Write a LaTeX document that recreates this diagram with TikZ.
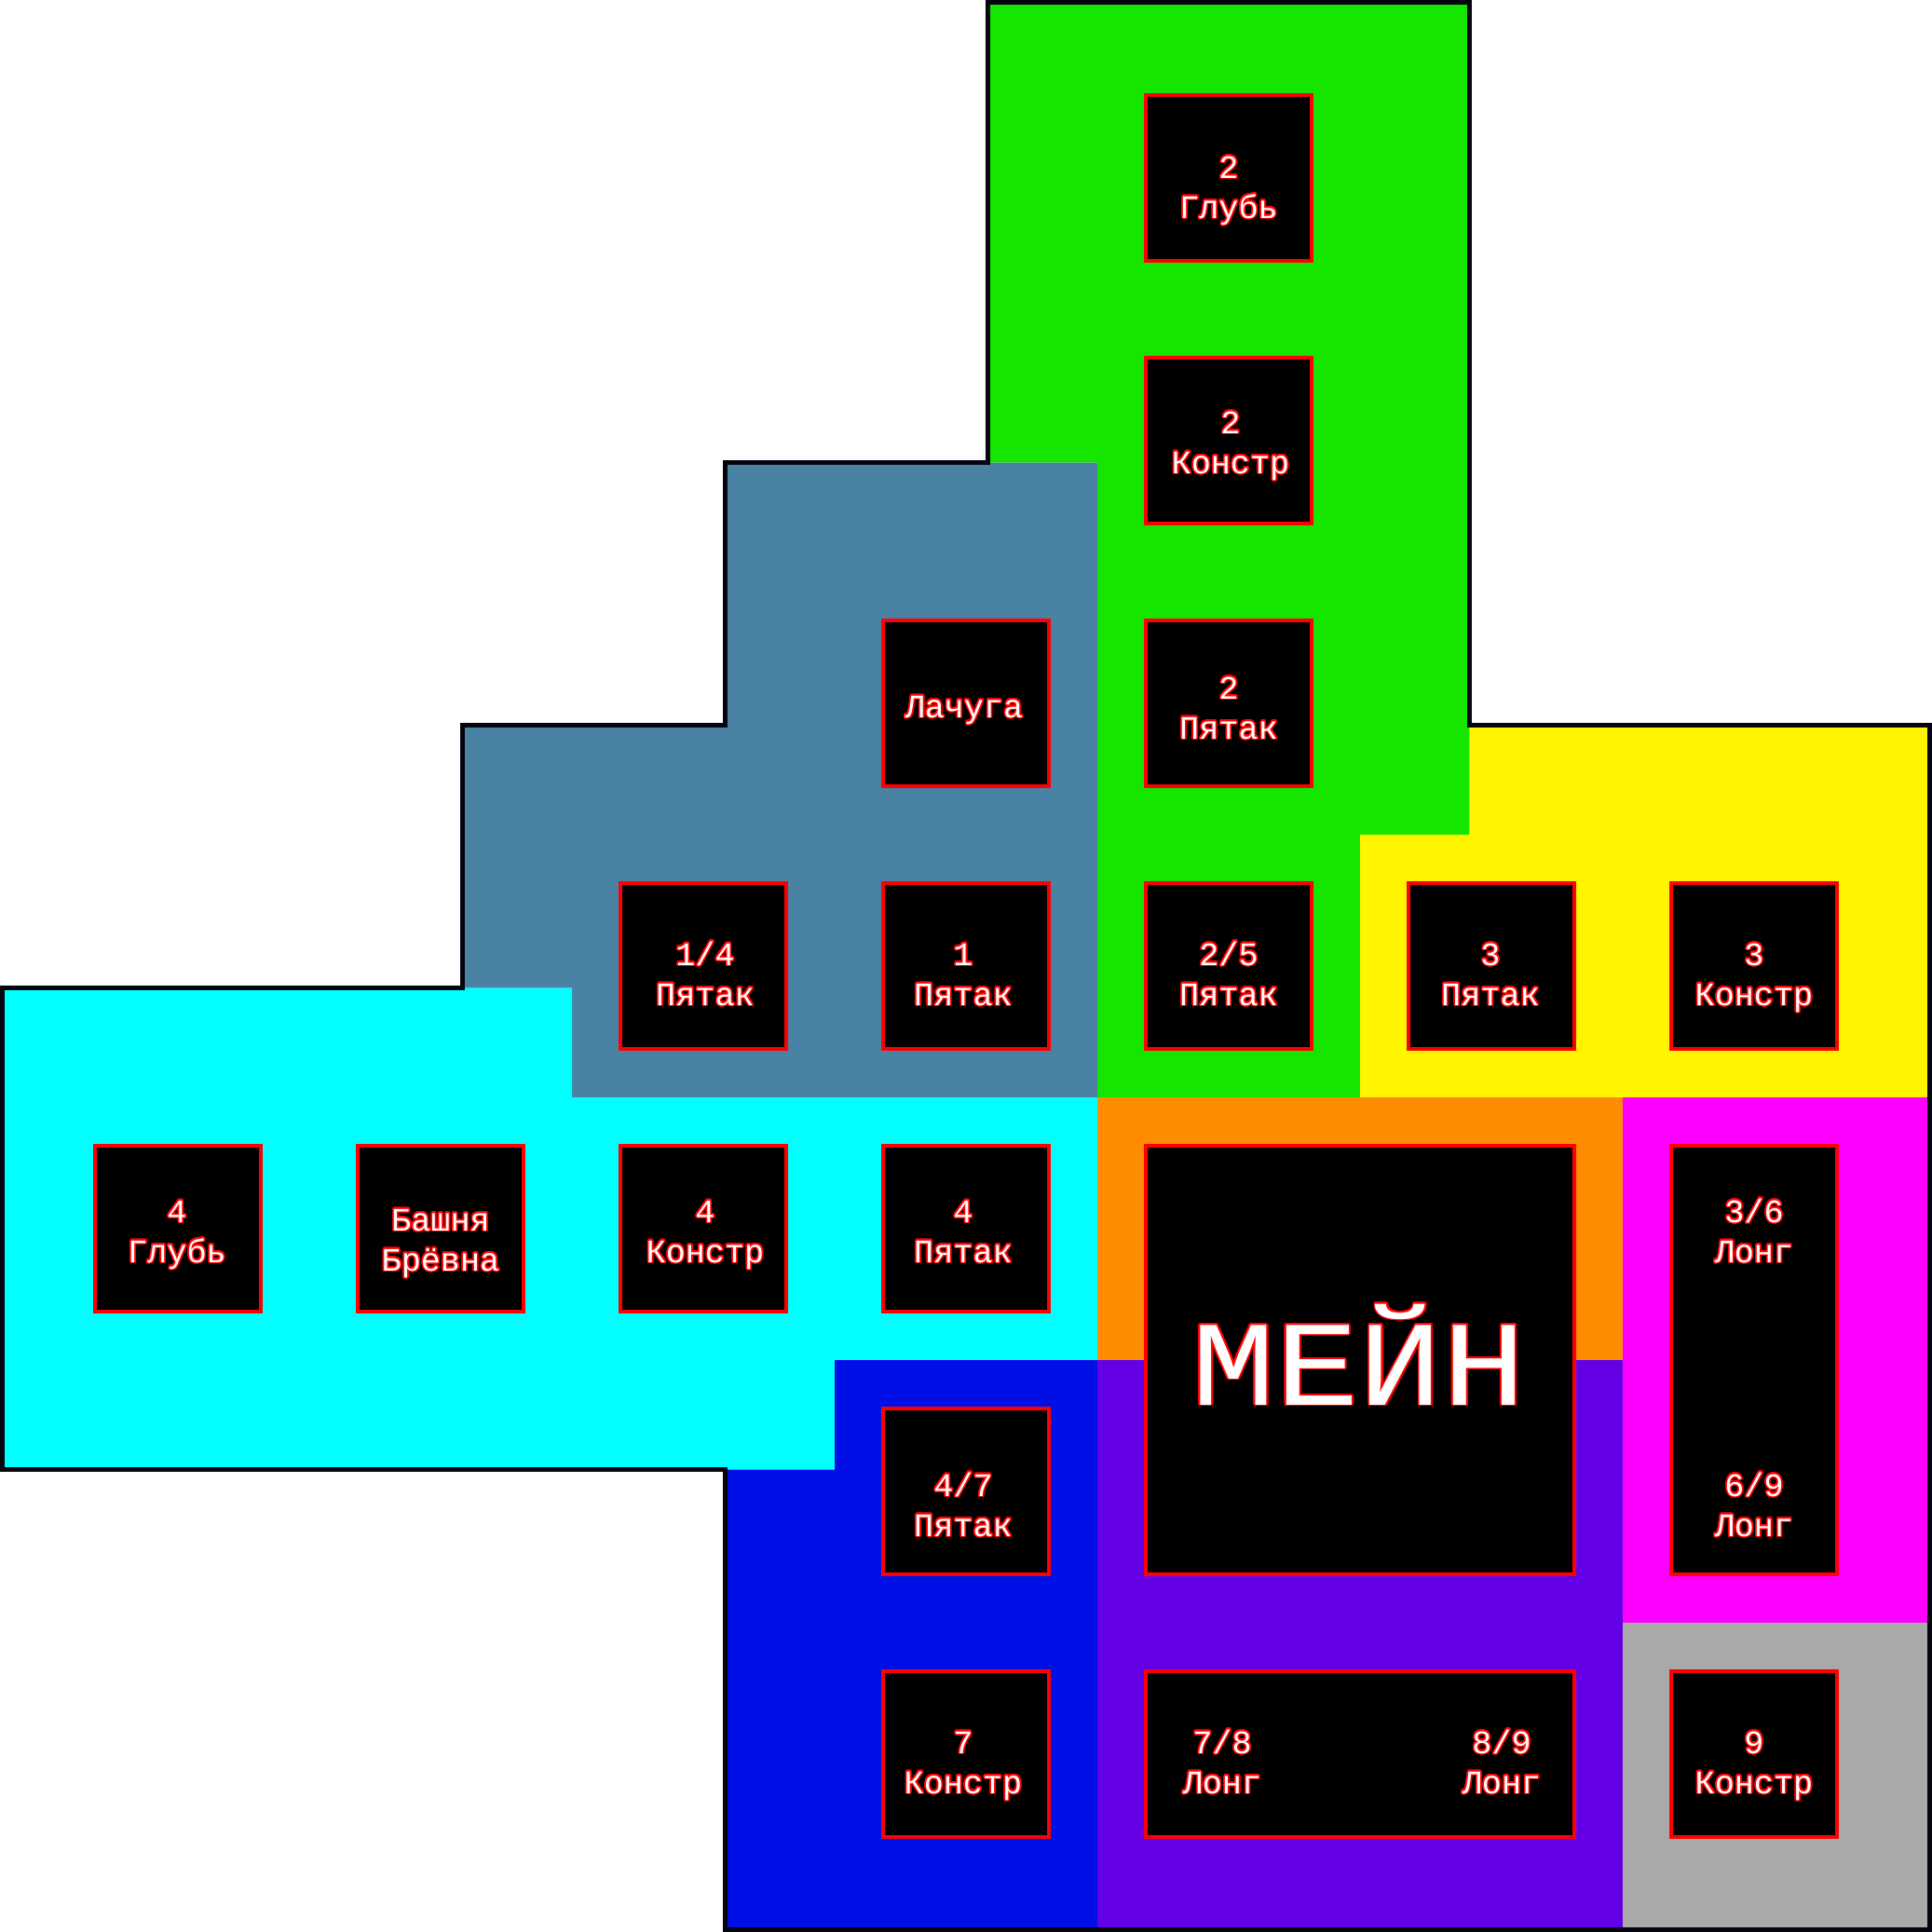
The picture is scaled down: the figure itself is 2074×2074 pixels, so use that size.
\documentclass[tikz,border=0pt]{standalone}
\usepackage{fontspec}
\newfontfamily\lblfont{Liberation Mono}
\usepackage[copies]{contour}
\contourlength{0.45pt}
\contournumber{24}
\definecolor{cGreen}{RGB}{20,230,0}
\definecolor{cSteel}{RGB}{74,130,164}
\definecolor{cCyan}{RGB}{0,255,255}
\definecolor{cYellow}{RGB}{255,245,0}
\definecolor{cOrange}{RGB}{255,140,0}
\definecolor{cPurple}{RGB}{100,0,230}
\definecolor{cBlue}{RGB}{0,15,230}
\definecolor{cMagenta}{RGB}{255,0,255}
\definecolor{cGray}{RGB}{169,169,169}
\definecolor{cLine}{RGB}{5,5,15}
\tikzset{
  room/.style={shape=rectangle, fill=black, draw=red, line width=0.04cm, inner sep=0pt,
               minimum width=1.78cm, minimum height=1.78cm},
  lbl/.style={anchor=base, inner sep=0pt, text=white,
              font=\lblfont\fontsize{10pt}{12pt}\selectfont},
  biglbl/.style={anchor=base, inner sep=0pt, text=white,
              font=\lblfont\fontsize{37pt}{44pt}\selectfont},
  border/.style={draw=cLine, line width=0.05cm, line join=miter}
}
\newcommand\onel[4]{\node[lbl] (#1) at (#2,#3) {\contour{red}{#4}};}
\newcommand\twol[5]{%
  \node[lbl] (#1a) at (#2,#3) {\contour{red}{#4}};
  \node[lbl] (#1b) at (#2,#3+43) {\contour{red}{#5}};}
\begin{document}
\begin{tikzpicture}[x=0.01cm,y=-0.01cm]
\useasboundingbox (0,0) rectangle (2074,2074);
\fill[white] (0,0) rectangle (2074,2074);
% regions
\fill[cGreen] (1060.5,2.5) -- (1577.5,2.5) -- (1577.5,896) -- (1460,896) -- (1460,1178)
  -- (1178,1178) -- (1178,496.5) -- (1060.5,496.5) -- cycle;
\fill[cYellow] (1577.5,778.5) -- (2071.5,778.5) -- (2071.5,1178) -- (1460,1178)
  -- (1460,896) -- (1577.5,896) -- cycle;
\fill[cSteel] (778.5,496.5) -- (1178,496.5) -- (1178,1178) -- (614,1178) -- (614,1060.5)
  -- (496.5,1060.5) -- (496.5,778.5) -- (778.5,778.5) -- cycle;
\fill[cCyan] (2.5,1060.5) -- (614,1060.5) -- (614,1178) -- (1178,1178) -- (1178,1460)
  -- (896,1460) -- (896,1577.5) -- (2.5,1577.5) -- cycle;
\fill[cBlue] (896,1460) -- (1178,1460) -- (1178,2071.5) -- (778.5,2071.5) -- (778.5,1577.5)
  -- (896,1577.5) -- cycle;
\fill[cOrange] (1178,1178) rectangle (1742,1460);
\fill[cPurple] (1178,1460) rectangle (1742,2071.5);
\fill[cMagenta] (1742,1178) rectangle (2071.5,1742);
\fill[cGray] (1742,1742) rectangle (2071.5,2071.5);
% outline
\draw[border] (1060.5,2.5) -- (1577.5,2.5) -- (1577.5,778.5) -- (2071.5,778.5)
  -- (2071.5,2071.5) -- (778.5,2071.5) -- (778.5,1577.5) -- (2.5,1577.5) -- (2.5,1060.5)
  -- (496.5,1060.5) -- (496.5,778.5) -- (778.5,778.5) -- (778.5,496.5) -- (1060.5,496.5) -- cycle;
% rooms
\node[room] (glub2) at (1319,191) {};
\node[room] (konstr2) at (1319,473) {};
\node[room] (pyat2) at (1319,755) {};
\node[room] (lach) at (1037,755) {};
\node[room] (pyat14) at (755,1037) {};
\node[room] (pyat1) at (1037,1037) {};
\node[room] (pyat25) at (1319,1037) {};
\node[room] (pyat3) at (1601,1037) {};
\node[room] (konstr3) at (1883,1037) {};
\node[room] (glub4) at (191,1319) {};
\node[room] (bashnya) at (473,1319) {};
\node[room] (konstr4) at (755,1319) {};
\node[room] (pyat4) at (1037,1319) {};
\node[room, minimum width=4.6cm, minimum height=4.6cm] (main) at (1460,1460) {};
\node[room, minimum height=4.6cm] (longv) at (1883,1460) {};
\node[room] (pyat47) at (1037,1601) {};
\node[room] (konstr7) at (1037,1883) {};
\node[room, minimum width=4.6cm] (longh) at (1460,1883) {};
\node[room] (konstr9) at (1883,1883) {};
% labels
\twol{tglub2}{1319}{191}{2}{Глубь}
\twol{tkonstr2}{1321}{465}{2}{Констр}
\twol{tpyat2}{1319}{750}{2}{Пятак}
\onel{tlach}{1035}{770}{Лачуга}
\twol{tpyat14}{757}{1036}{1/4}{Пятак}
\twol{tpyat1}{1034}{1036}{1}{Пятак}
\twol{tpyat25}{1319}{1036}{2/5}{Пятак}
\twol{tpyat3}{1600}{1036}{3}{Пятак}
\twol{tkonstr3}{1883}{1036}{3}{Констр}
\twol{tglub4}{190}{1312}{4}{Глубь}
\twol{tbash}{473}{1321}{Башня}{Брёвна}
\twol{tkonstr4}{757}{1312}{4}{Констр}
\twol{tpyat4}{1034}{1312}{4}{Пятак}
\node[biglbl] (tmain) at (1459,1508) {\scalebox{1.15}[1]{\contour{red}{МЕЙН}}};
\twol{tlong36}{1883}{1312}{3/6}{Лонг}
\twol{tlong69}{1883}{1606}{6/9}{Лонг}
\twol{tpyat47}{1034}{1606}{4/7}{Пятак}
\twol{tkonstr7}{1034}{1882}{7}{Констр}
\twol{tlong78}{1312}{1882}{7/8}{Лонг}
\twol{tlong89}{1612}{1882}{8/9}{Лонг}
\twol{tkonstr9}{1883}{1882}{9}{Констр}
\end{tikzpicture}
\end{document}
